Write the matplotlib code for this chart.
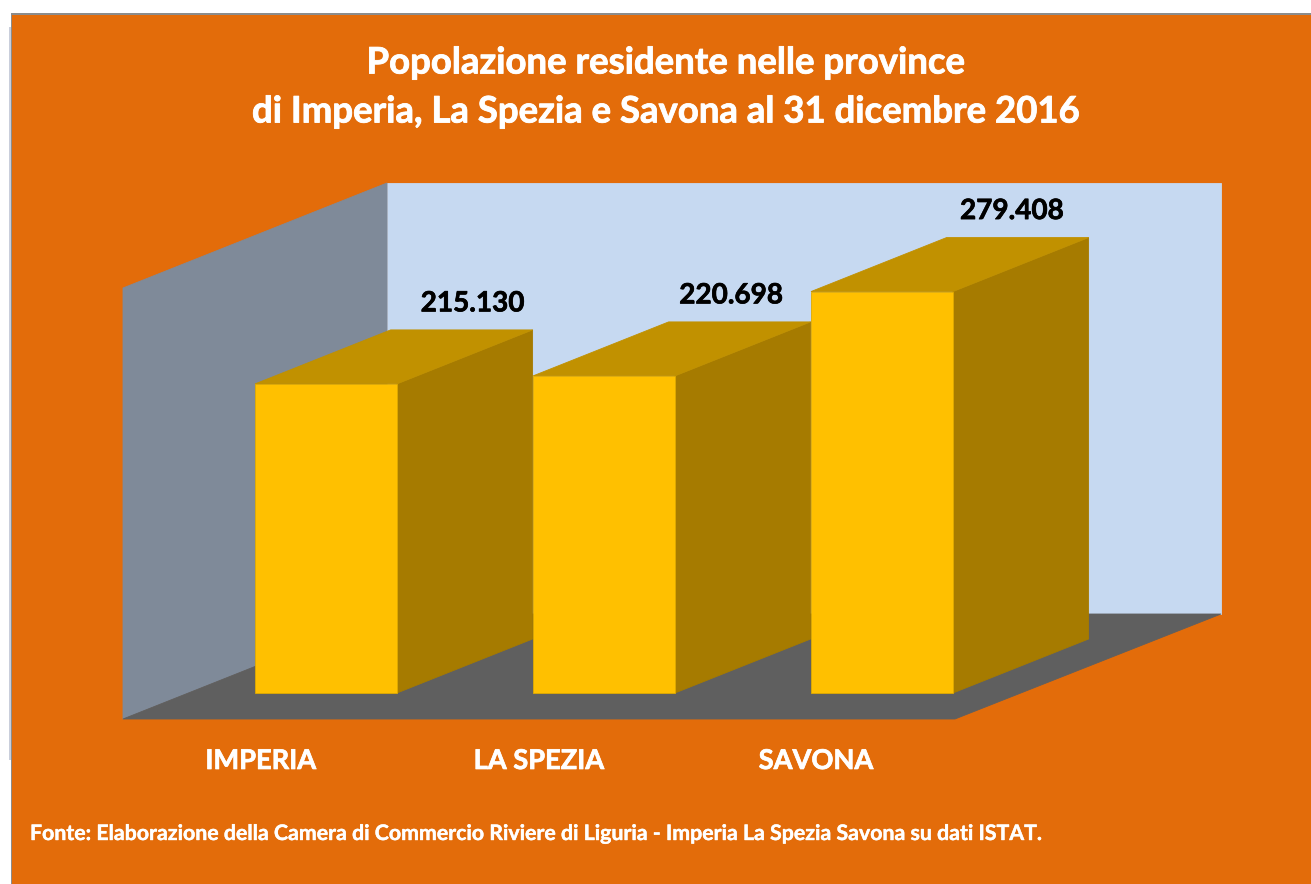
import matplotlib
matplotlib.use('Agg')
from matplotlib import pyplot as plt
from matplotlib.patches import Polygon, Rectangle
import matplotlib.patheffects as pe

province = ['IMPERIA', 'LA SPEZIA', 'SAVONA']
residenti = [215130, 220698, 279408]
etichette = ['215.130', '220.698', '279.408']
titolo = ['Popolazione residente nelle province',
          'di Imperia, La Spezia e Savona al 31 dicembre 2016']
fonte = 'Fonte: Elaborazione della Camera di Commercio Riviere di Liguria - Imperia La Spezia Savona su dati ISTAT.'

W, H = 1311, 884
ORANGE = '#E36C0A'
plt.rcParams['font.family'] = ['Lato', 'DejaVu Sans']

fig = plt.figure(figsize=(W / 100, H / 100), dpi=100, facecolor='white')
ax = fig.add_axes([0, 0, 1, 1])
ax.axis('off')

# one category = 278 px, one inhabitant = 1/696 px, bars sit on y = 0 at pixel 693
x_px = 278.0
y_px = 696.0
x0 = 326.0
y0 = 693.0
ax.set_xlim(-x0 / x_px, (W - x0) / x_px)
ax.set_ylim((y0 - H) * y_px, y0 * y_px)


def cx(px):
    return (px - x0) / x_px


def cy(px):
    return (y0 - px) * y_px


def poly(points, color, z):
    ax.add_patch(Polygon([(cx(a), cy(b)) for a, b in points], closed=True, facecolor=color,
                         edgecolor=color, linewidth=0.6, zorder=z))


def bold(color, lw):
    return [pe.withStroke(linewidth=lw, foreground=color)]


# page background with its thin frame
ax.add_patch(Rectangle((cx(9), cy(760)), 3 / x_px, 733 * y_px, facecolor='#C9CEDB', edgecolor='none', zorder=0))
ax.add_patch(Rectangle((cx(11), cy(H)), (W - 11) / x_px, (H - 12.5) * y_px, facecolor='#8C8C8C', edgecolor='none', zorder=1))
ax.add_patch(Rectangle((cx(12.5), cy(H)), (W - 12.5) / x_px, (H - 15) * y_px, facecolor=ORANGE, edgecolor='none', zorder=2))

# walls and floor
poly([(387, 183), (1221, 183), (1221, 614), (387, 614)], '#C6D9F1', 3)
poly([(123, 288), (387, 183), (387, 614), (123, 719)], '#7F8A99', 4)
poly([(123, 719), (955, 719), (1221, 614), (387, 614)], '#5F5F5F', 5)

# bars
width = 142 / x_px
depth_x = 135.6 / x_px
depth_y = 54 * y_px
for i, val in enumerate(residenti):
    left = i - width / 2
    right = i + width / 2
    z = 6 + i
    ax.add_patch(Polygon([(right, 0), (right + depth_x, depth_y), (right + depth_x, val + depth_y), (right, val)],
                         closed=True, facecolor='#A67B00', edgecolor='#A67B00', linewidth=0.6, zorder=z))
    ax.add_patch(Polygon([(left, val), (right, val), (right + depth_x, val + depth_y), (left + depth_x, val + depth_y)],
                         closed=True, facecolor='#C19100', edgecolor='#C19100', linewidth=0.6, zorder=z))
    ax.bar(i, val, width=width, color='#FFC000', edgecolor='#E0AA00', linewidth=0.6, zorder=z + 0.5)

# value labels sit above the back edge of each bar top
label_x = [0.527, 1.457, 2.467]
for i, val in enumerate(residenti):
    ax.text(label_x[i], val + depth_y + 26.5 * y_px, etichette[i], ha='center', va='center', fontsize=20.1,
            fontweight='bold', color='black', zorder=12, path_effects=bold('black', 0.5))

# category names
name_x = [cx(261), cx(539), cx(816)]
for i, nome in enumerate(province):
    ax.text(name_x[i], cy(761), nome, ha='center', va='center', fontsize=19.6,
            fontweight='bold', color='white', zorder=12, path_effects=bold('white', 0.5))

ax.text(cx(665), cy(63), titolo[0], ha='center', va='center', fontsize=26.3, fontweight='bold',
        color='white', zorder=12, path_effects=bold('white', 0.6))
ax.text(cx(665), cy(112), titolo[1], ha='center', va='center', fontsize=26.3, fontweight='bold',
        color='white', zorder=12, path_effects=bold('white', 0.6))
ax.text(cx(30), cy(834), fonte, ha='left', va='center', fontsize=15.35, fontweight='bold',
        color='white', zorder=12, path_effects=bold('white', 0.3))

plt.savefig('out.png', dpi=100, facecolor='white')
